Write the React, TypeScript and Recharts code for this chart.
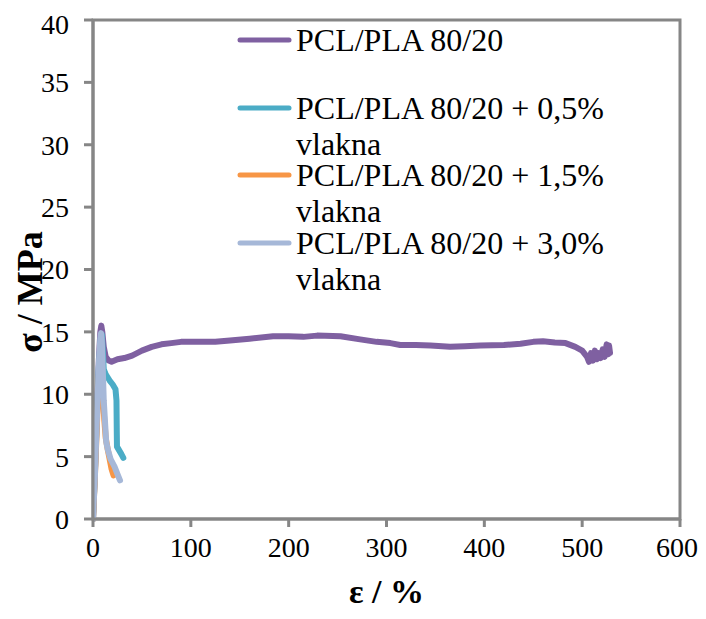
import React from 'react';
import { LineChart, Line, XAxis, YAxis, Legend, ReferenceArea } from 'recharts';

const pcl = [
  [0, 0], [2, 4], [4, 8.5], [6, 12.8], [7.5, 15], [8.5, 15.5], [9.5, 15.0], [11, 13.8], [13, 13.0], [16, 12.7], [19, 12.6],
  [25, 12.8], [32, 12.9], [40, 13.1], [50, 13.5], [60, 13.8], [70, 14.0], [80, 14.1], [90, 14.2], [110, 14.2], [125, 14.2],
  [140, 14.3], [160, 14.45], [184, 14.65], [200, 14.65], [215, 14.6], [229, 14.7], [253, 14.65], [273, 14.4], [290, 14.2],
  [304, 14.1], [314, 13.95], [330, 13.95], [345, 13.9], [365, 13.8], [380, 13.85], [396, 13.9], [420, 13.95], [437, 14.05],
  [450, 14.2], [460, 14.25], [472, 14.15], [483, 14.1], [493, 13.8], [500, 13.5], [505, 13.0], [507, 12.6], [509, 13.3],
  [511, 12.7], [513, 13.5], [515, 12.8], [517, 13.3], [519, 12.9], [521, 13.6], [523, 13.0], [525, 14.0], [526.5, 13.2],
  [527.5, 13.9], [528.5, 13.3],
];
const f05 = [
  [0, 0], [2, 3.8], [4, 8.2], [6, 12.2], [8, 14.5], [9, 14.8], [10, 13.5], [11, 12], [13, 11.6], [17, 11.1], [20, 10.8],
  [23, 10.4], [24, 9.5], [24.3, 7], [24.5, 5.8], [26, 5.6], [29, 5.2], [31, 4.9],
];
const f15 = [
  [0, 0], [2, 3.5], [4, 7.5], [6, 11.5], [7.5, 13.0], [8.3, 13.2], [9, 12.0], [10, 10], [11.5, 8], [13, 6.5], [15, 5.6],
  [17, 4.8], [19, 4.0], [21, 3.5],
];
const f30 = [
  [0, 0], [2, 3.5], [4, 8], [6, 12.5], [7.5, 14.5], [8.2, 14.9], [9, 14.3], [10, 12], [11, 9.5], [12.5, 7.5], [13.5, 6.2],
  [15, 5.6], [18, 4.8], [22, 4.2], [25, 3.6], [27.6, 3.1],
];

const xTicks = [0, 100, 200, 300, 400, 500, 600];
const yTicks = [0, 5, 10, 15, 20, 25, 30, 35, 40];

const seriesNames = ['PCL/PLA 80/20', 'PCL/PLA 80/20 + 0,5%', 'PCL/PLA 80/20 + 1,5%', 'PCL/PLA 80/20 + 3,0%'];
const seriesSub = ['', 'vlakna', 'vlakna', 'vlakna'];
const colors = ['#7f60a1', '#4bacc6', '#f79646', '#a6b8d8'];
const raw = [pcl, f05, f15, f30];

const toObj = (arr: number[][]) => arr.map(([e, s]) => ({ e, s }));
const series = raw.map(toObj);

const FONT = '"Liberation Serif", "Times New Roman", serif';
const AXIS = '#868686';

const renderLegend = () => {
  const rowsY = [20, 88, 155, 223];
  return (
    <svg width={440} height={290} style={{ overflow: 'visible' }}>
      {seriesNames.map((n, i) => (
        <g key={n}>
          <line x1={3} x2={52} y1={rowsY[i]} y2={rowsY[i]} stroke={colors[i]} strokeWidth={5} strokeLinecap="round" />
          <text x={59} y={rowsY[i] + 11} fontFamily={FONT} fontSize={32} fill="#000">{n}</text>
          {seriesSub[i] && (
            <text x={59} y={rowsY[i] + 47} fontFamily={FONT} fontSize={32} fill="#000">{seriesSub[i]}</text>
          )}
        </g>
      ))}
    </svg>
  );
};

export default function App() {
  return (
    <LineChart width={690} height={603} margin={{ top: 12, right: 18, left: 0, bottom: 0 }} style={{ overflow: 'visible' }}>
      <ReferenceArea x1={0} x2={600} y1={0} y2={40} fill="none" stroke={AXIS} strokeWidth={3} ifOverflow="visible" />
      <XAxis
        type="number"
        dataKey="e"
        domain={[0, 600]}
        ticks={xTicks}
        allowDataOverflow
        height={92}
        stroke={AXIS}
        axisLine={{ stroke: AXIS, strokeWidth: 3 }}
        tickLine={{ stroke: AXIS, strokeWidth: 3 }}
        tickSize={8}
        tickMargin={10}
        tick={{ fontFamily: FONT, fontSize: 28, fill: '#000' }}
        label={({ viewBox }: any) => (
          <text x={viewBox.x + viewBox.width / 2} y={595} textAnchor="middle" fontFamily={FONT} fontSize={34} fontWeight="bold" fill="#000">
            ε / %
          </text>
        )}
      />
      <YAxis
        type="number"
        domain={[0, 40]}
        ticks={yTicks}
        width={85}
        stroke={AXIS}
        axisLine={{ stroke: AXIS, strokeWidth: 3 }}
        tickLine={{ stroke: AXIS, strokeWidth: 3 }}
        tickSize={9}
        tickMargin={15}
        tick={{ fontFamily: FONT, fontSize: 28, fill: '#000' }}
        label={() => (
          <text x={22} y={284} transform="rotate(-90 22 284)" textAnchor="middle" dominantBaseline="central" fontFamily={FONT} fontSize={36} fontWeight="bold" fill="#000">
            σ / MPa
          </text>
        )}
      />
      <Legend
        layout="vertical"
        align="center"
        verticalAlign="middle"
        content={renderLegend}
        wrapperStyle={{ position: 'absolute', left: 229, top: 12, width: 440, height: 290 }}
      />
      {series.map((d, i) => (
        <Line
          key={seriesNames[i]}
          data={d}
          dataKey="s"
          type="linear"
          stroke={colors[i]}
          strokeWidth={6}
          dot={false}
          isAnimationActive={false}
          strokeLinejoin="round"
          strokeLinecap="round"
        />
      ))}
    </LineChart>
  );
}
